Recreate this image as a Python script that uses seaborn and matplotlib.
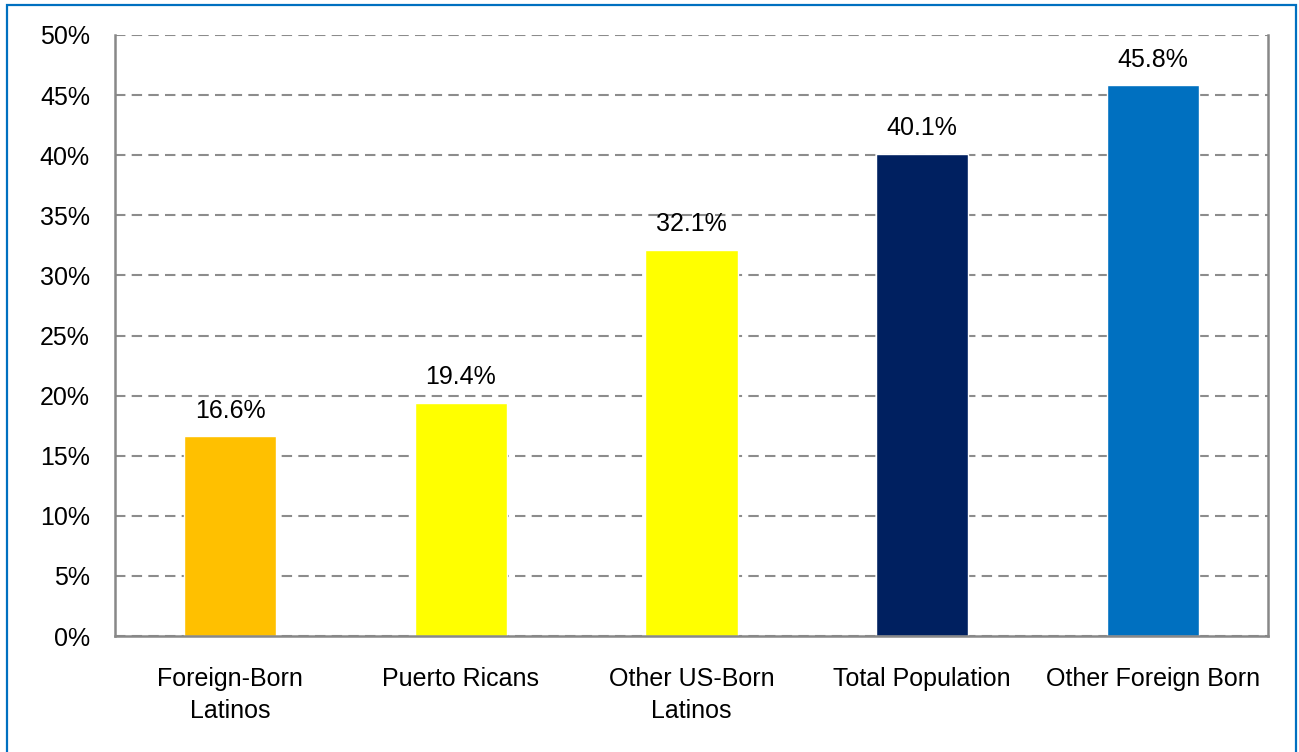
import numpy as np
import pandas as pd
import matplotlib
matplotlib.use("Agg")
import matplotlib.pyplot as plt
import seaborn as sns
from matplotlib.patches import Rectangle
from matplotlib.ticker import FixedLocator

groups = ["Foreign-Born\nLatinos", "Puerto Ricans", "Other US-Born\nLatinos",
          "Total Population", "Other Foreign Born"]
values = [16.6, 19.4, 32.1, 40.1, 45.8]
colors = ["#FFC000", "#FFFF00", "#FFFF00", "#002060", "#0070C0"]
yticks = [0, 5, 10, 15, 20, 25, 30, 35, 40, 45, 50]

sns.set_style("white")
plt.rcParams["font.family"] = ["Liberation Sans", "DejaVu Sans"]
plt.rcParams["text.color"] = "black"
plt.rcParams["xtick.color"] = "black"
plt.rcParams["ytick.color"] = "black"

df = pd.DataFrame({"group": groups, "value": values})

fig = plt.figure(figsize=(12.99, 7.52), dpi=100)
ax = fig.add_axes([115/1299, 1-636/752, (1268-115)/1299, (636-35)/752])

sns.barplot(data=df, x="group", y="value", hue="group", palette=colors,
            width=0.4, legend=False, ax=ax, saturation=1)

ax.set_ylim(0, 50)
ax.set_xlim(-0.5, 4.5)
ax.set_yticks(yticks)
ax.set_yticklabels([f"{t}%" for t in yticks], fontsize=18)
ax.set_xlabel("")
ax.set_ylabel("")
ax.tick_params(axis="x", which="major", length=0, labelsize=18, pad=22, labelcolor="black")
ax.xaxis.set_minor_locator(FixedLocator(np.arange(-0.5, 5, 1)))
ax.tick_params(axis="x", which="minor", length=6, width=1.5, color="#888888", direction="out")
ax.tick_params(axis="y", length=6, width=1.5, color="#888888", direction="out", pad=12,
               labelcolor="black")
for lab in ax.get_xticklabels():
    lab.set_linespacing(1.45)

ax.set_axisbelow(True)
ax.yaxis.grid(True, linestyle=(0, (5, 3)), color="#8c8c8c", linewidth=1.5)
for s in ["left", "bottom", "right"]:
    ax.spines[s].set_color("#888888")
    ax.spines[s].set_linewidth(1.8)
ax.spines["top"].set_visible(False)

for i, v in enumerate(values):
    ax.annotate(f"{v}%", (i, v), xytext=(0, 10), textcoords="offset points",
                ha="center", va="bottom", fontsize=18, color="black")

fig.patches.append(Rectangle((7/1299, -0.05), (1296-7)/1299, 1.05-5/752,
                             transform=fig.transFigure, fill=False,
                             edgecolor="#0070C0", linewidth=1.6))

fig.savefig("out.png", dpi=100)
